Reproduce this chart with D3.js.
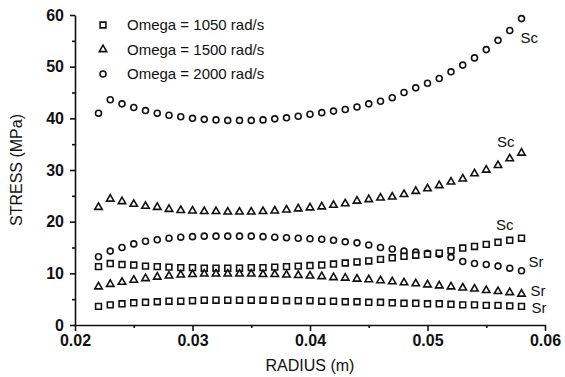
<!DOCTYPE html>
<html>
<head>
<meta charset="utf-8">
<script src="https://cdn.jsdelivr.net/npm/d3@7"></script>
<style>
  body { margin: 0; background: #fff; }
  svg { display: block; }
  text { font-family: "Liberation Sans", Arial, sans-serif; fill: #111; }
  .axis path, .axis line { stroke: #111; stroke-width: 1.6; }
  .axis text { font-size: 16px; font-weight: bold; }
</style>
</head>
<body>
<script>
const WIDTH = 565;
const HEIGHT = 377;
const MARGIN = { top: 15, right: 20, bottom: 52, left: 75 };

// radius (m) of every computed point
const radius = [
  0.022, 0.023, 0.024, 0.025, 0.026, 0.027, 0.028, 0.029, 0.030, 0.031,
  0.032, 0.033, 0.034, 0.035, 0.036, 0.037, 0.038, 0.039, 0.040, 0.041,
  0.042, 0.043, 0.044, 0.045, 0.046, 0.047, 0.048, 0.049, 0.050, 0.051,
  0.052, 0.053, 0.054, 0.055, 0.056, 0.057, 0.058
];

// stresses (MPa)
const sc2000 = [
  41.0, 43.6, 42.8, 42.1, 41.5, 41.0, 40.6, 40.3, 40.0, 39.8,
  39.7, 39.6, 39.6, 39.6, 39.7, 39.9, 40.1, 40.4, 40.8, 41.1,
  41.4, 41.7, 42.2, 42.8, 43.3, 44.0, 45.0, 45.9, 46.8, 47.7,
  49.0, 50.3, 51.7, 53.3, 55.1, 57.0, 59.3
];
const sc1500 = [
  22.8, 24.4, 23.9, 23.4, 23.0, 22.8, 22.4, 22.2, 22.1, 22.0,
  22.0, 21.9, 21.9, 21.9, 22.0, 22.1, 22.3, 22.5, 22.7, 22.9,
  23.2, 23.5, 24.0, 24.3, 24.6, 24.8, 25.3, 25.9, 26.4, 27.0,
  27.7, 28.3, 29.3, 30.0, 30.9, 32.2, 33.3
];
const sr2000 = [
  13.2, 14.3, 15.0, 15.7, 16.2, 16.5, 16.8, 17.0, 17.1, 17.2,
  17.2, 17.2, 17.2, 17.2, 17.1, 17.0, 16.9, 16.8, 16.7, 16.6,
  16.4, 16.1, 15.9, 15.5, 15.0, 14.7, 14.3, 14.1, 13.9, 13.7,
  13.1, 12.3, 11.9, 11.7, 11.4, 11.0, 10.5
];
const sc1050 = [
  11.3, 11.9, 11.7, 11.6, 11.4, 11.3, 11.2, 11.1, 11.1, 11.0,
  11.0, 11.0, 11.0, 11.1, 11.1, 11.2, 11.3, 11.4, 11.5, 11.6,
  11.8, 12.0, 12.2, 12.4, 12.7, 13.0, 13.3, 13.5, 13.7, 13.9,
  14.4, 14.9, 15.2, 15.6, 16.0, 16.4, 16.8
];
const sr1500 = [
  7.4, 7.9, 8.3, 8.7, 9.0, 9.3, 9.5, 9.7, 9.8, 9.9,
  9.9, 9.9, 9.9, 9.9, 9.8, 9.8, 9.7, 9.6, 9.5, 9.4,
  9.2, 9.1, 8.9, 8.8, 8.6, 8.4, 8.2, 8.0, 7.8, 7.6,
  7.4, 7.2, 7.0, 6.7, 6.5, 6.3, 6.0
];
const sr1050 = [
  3.6, 3.9, 4.1, 4.3, 4.4, 4.5, 4.6, 4.6, 4.7, 4.8,
  4.8, 4.8, 4.8, 4.8, 4.8, 4.8, 4.7, 4.7, 4.7, 4.6,
  4.6, 4.5, 4.5, 4.4, 4.4, 4.3, 4.2, 4.2, 4.1, 4.1,
  4.0, 3.9, 3.9, 3.8, 3.8, 3.7, 3.6
];

const legendLabels = ['Omega = 1050 rad/s', 'Omega = 1500 rad/s', 'Omega = 2000 rad/s'];
const xTicks = [0.02, 0.03, 0.04, 0.05, 0.06];
const xMinorTicks = [0.025, 0.035, 0.045, 0.055];
const yTicks = [0, 10, 20, 30, 40, 50, 60];
const yMinorTicks = [5, 15, 25, 35, 45, 55];

const symbols = [d3.symbolSquare, d3.symbolTriangle, d3.symbolCircle];
const symbolSizes = [34, 24, 28];

// each series: values, marker index, curve label, label offset
const series = [
  { values: sc2000, mark: 2, label: 'Sc', dx: -1, dy: 24, anchor: 'start' },
  { values: sc1500, mark: 1, label: 'Sc', dx: -7, dy: -6, anchor: 'end' },
  { values: sr2000, mark: 2, label: 'Sr', dx: 7, dy: -4, anchor: 'start' },
  { values: sc1050, mark: 0, label: 'Sc', dx: -8, dy: -8, anchor: 'end' },
  { values: sr1500, mark: 1, label: 'Sr', dx: 9, dy: 2, anchor: 'start' },
  { values: sr1050, mark: 0, label: 'Sr', dx: 10, dy: 7, anchor: 'start' }
];

const w = WIDTH - MARGIN.left - MARGIN.right;
const h = HEIGHT - MARGIN.top - MARGIN.bottom;

const svg = d3.select('body').append('svg')
  .attr('width', WIDTH)
  .attr('height', HEIGHT);

const g = svg.append('g')
  .attr('transform', 'translate(' + MARGIN.left + ',' + MARGIN.top + ')');

const x = d3.scaleLinear().domain([0.02, 0.06]).range([0, w]);
const y = d3.scaleLinear().domain([0, 60]).range([h, 0]);

// minor ticks first, the main axes on top
g.append('g').attr('class', 'axis')
  .attr('transform', 'translate(0,' + h + ')')
  .call(d3.axisBottom(x).tickValues(xMinorTicks).tickSize(3).tickFormat(''))
  .select('.domain').remove();
g.append('g').attr('class', 'axis')
  .call(d3.axisLeft(y).tickValues(yMinorTicks).tickSize(3).tickFormat(''))
  .select('.domain').remove();

g.append('g').attr('class', 'x axis')
  .attr('transform', 'translate(0,' + h + ')')
  .call(d3.axisBottom(x).tickValues(xTicks).tickSize(6).tickSizeOuter(0)
    .tickPadding(4).tickFormat(d3.format('.2f')));

g.append('g').attr('class', 'y axis')
  .call(d3.axisLeft(y).tickValues(yTicks).tickSize(5).tickSizeOuter(0)
    .tickPadding(6));

// axis titles
svg.append('text')
  .attr('x', MARGIN.left + w / 2)
  .attr('y', HEIGHT - 6)
  .attr('text-anchor', 'middle')
  .style('font-size', '16px')
  .text('RADIUS (m)');

svg.append('text')
  .attr('transform', 'translate(22,' + (MARGIN.top + h / 2) + ') rotate(-90)')
  .attr('text-anchor', 'middle')
  .style('font-size', '16px')
  .text('STRESS (MPa)');

// the scatter marks
series.forEach((s) => {
  g.append('g')
    .selectAll('path')
    .data(s.values)
    .join('path')
    .attr('d', d3.symbol(symbols[s.mark], symbolSizes[s.mark]))
    .attr('transform', (d, i) => 'translate(' + x(radius[i]) + ',' + y(d) + ')')
    .attr('fill', '#fff')
    .attr('stroke', '#111')
    .attr('stroke-width', 1.6);

  const last = s.values.length - 1;
  g.append('text')
    .attr('x', x(radius[last]) + s.dx)
    .attr('y', y(s.values[last]) + s.dy)
    .attr('text-anchor', s.anchor)
    .style('font-size', '15px')
    .text(s.label);
});

// legend
const legend = g.append('g').attr('transform', 'translate(28,10)');
legend.selectAll('path')
  .data(legendLabels)
  .join('path')
  .attr('d', (d, i) => d3.symbol(symbols[i], symbolSizes[i])())
  .attr('transform', (d, i) => 'translate(0,' + i * 24.5 + ')')
  .attr('fill', '#fff')
  .attr('stroke', '#111')
  .attr('stroke-width', 1.6);
legend.selectAll('text')
  .data(legendLabels)
  .join('text')
  .attr('x', 24)
  .attr('y', (d, i) => i * 24.5 + 5)
  .style('font-size', '15px')
  .text((d) => d);
</script>
</body>
</html>
